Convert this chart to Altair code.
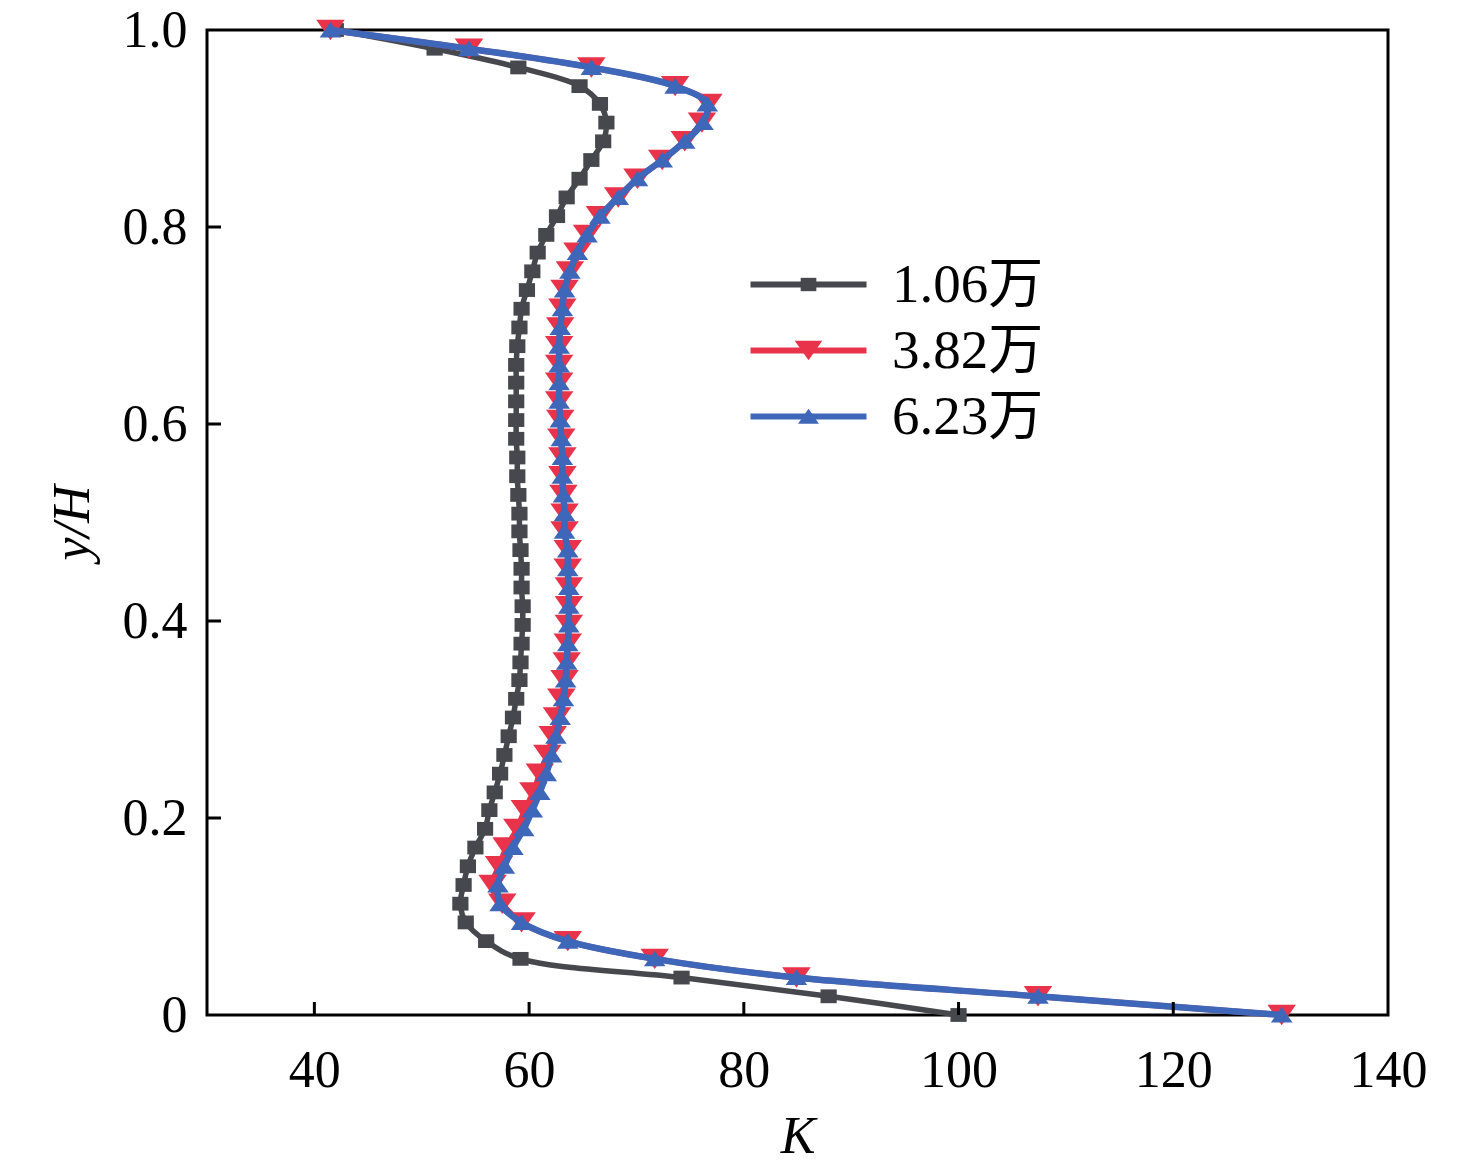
import altair as alt
import pandas as pd

# ---------------- data ----------------
y_h = [0.000, 0.019, 0.038, 0.057, 0.075, 0.094, 0.113, 0.132, 0.151, 0.170,
       0.189, 0.208, 0.226, 0.245, 0.264, 0.283, 0.302, 0.321, 0.340, 0.358,
       0.377, 0.396, 0.415, 0.434, 0.453, 0.472, 0.491, 0.509, 0.528, 0.547,
       0.566, 0.585, 0.604, 0.623, 0.642, 0.660, 0.679, 0.698, 0.717, 0.736,
       0.755, 0.774, 0.792, 0.811, 0.830, 0.849, 0.868, 0.887, 0.906, 0.925,
       0.943, 0.962, 0.981, 1.000]

k_106 = [100.0, 87.9, 74.2, 59.2, 56.0, 54.1, 53.6, 53.9, 54.3, 55.0,
         55.9, 56.3, 56.8, 57.3, 57.7, 58.1, 58.5, 58.8, 59.1, 59.2,
         59.3, 59.4, 59.4, 59.3, 59.3, 59.2, 59.1, 59.1, 59.0, 58.9,
         58.9, 58.8, 58.8, 58.8, 58.8, 58.8, 58.9, 59.1, 59.3, 59.8,
         60.3, 60.8, 61.6, 62.6, 63.5, 64.7, 65.8, 66.9, 67.2, 66.6,
         64.7, 59.0, 51.2, 42.0]

k_382 = [130.1, 107.4, 84.9, 71.7, 63.6, 59.3, 57.5, 56.6, 57.2, 57.9,
         58.9, 59.6, 60.4, 61.0, 61.7, 62.2, 62.6, 63.0, 63.3, 63.5,
         63.6, 63.7, 63.7, 63.7, 63.6, 63.6, 63.3, 63.3, 63.2, 63.1,
         63.1, 63.0, 62.9, 62.8, 62.8, 62.8, 62.8, 62.9, 63.1, 63.3,
         63.8, 64.5, 65.4, 66.6, 68.3, 70.1, 72.4, 74.5, 76.1, 76.7,
         73.6, 65.8, 54.4, 41.5]

k_623 = [130.1, 107.4, 84.9, 71.7, 63.6, 59.3, 57.3, 57.1, 57.7, 58.5,
         59.5, 60.3, 61.0, 61.6, 62.1, 62.5, 62.9, 63.2, 63.4, 63.5,
         63.6, 63.7, 63.7, 63.7, 63.6, 63.6, 63.3, 63.3, 63.2, 63.1,
         63.1, 63.0, 62.9, 62.8, 62.8, 62.8, 62.8, 62.9, 63.1, 63.3,
         63.8, 64.5, 65.4, 66.6, 68.3, 70.1, 72.4, 74.5, 76.2, 76.6,
         73.6, 65.8, 54.4, 41.5]

series_names = ["1.06万", "3.82万", "6.23万"]
series_values = [k_106, k_382, k_623]
colors = ["#47484d", "#e8334a", "#3e66b9"]
marker_paths = [
    "M-0.54,-0.46L0.54,-0.46L0.54,0.46L-0.54,0.46Z",   # square
    "M-0.95,-0.68L0.95,-0.68L0,0.68Z",                 # triangle down
    "M0,-0.54L0.72,0.5L-0.72,0.5Z",                    # triangle up
]
line_widths = [5.5, 6, 6.5]

x_axis_values = [40, 60, 80, 100, 120, 140]
y_axis_values = [0, 0.2, 0.4, 0.6, 0.8, 1.0]
x_tick_marks = [40, 60, 80, 100, 120]
y_tick_marks = [0.2, 0.4, 0.6, 0.8]

# ---------------- build ----------------
FONT = "Liberation Serif, Noto Sans CJK SC"
marker_names = [s + " " for s in series_names]

frames = []
for name, mname, vals in zip(series_names, marker_names, series_values):
    frames.append(pd.DataFrame({
        "series": name, "mseries": mname, "K": vals, "yH": y_h,
        "idx": list(range(len(y_h)))}))

xscale = alt.Scale(domain=[30, 140], nice=False, zero=False)
yscale = alt.Scale(domain=[0, 1], nice=False, zero=False)

xaxis = alt.Axis(values=x_axis_values, format="d", title="K",
                 titleFont=FONT, titleFontSize=52, titleFontStyle="italic",
                 titleFontWeight="normal", titleColor="black", titlePadding=15,
                 labelFont=FONT, labelFontSize=52, labelColor="black",
                 labelPadding=30, labelFlush=False, labelOverlap=False,
                 ticks=False, domain=False, grid=False)
yaxis = alt.Axis(values=y_axis_values,
                 labelExpr="datum.value == 0 ? '0' : format(datum.value, '.1f')",
                 title="y/H",
                 titleFont=FONT, titleFontSize=52, titleFontStyle="italic",
                 titleFontWeight="normal", titleColor="black", titlePadding=23,
                 labelFont=FONT, labelFontSize=52, labelColor="black",
                 labelPadding=20, labelFlush=False, labelOverlap=False,
                 ticks=False, domain=False, grid=False)

LEG_X, LEG_Y = 574, 227
legA = alt.Legend(title=None, orient="none", legendX=LEG_X, legendY=LEG_Y,
                  symbolType="M-4,0L4,0", symbolSize=841, symbolStrokeWidth=6,
                  labelFont=FONT, labelFontSize=55, labelColor="black",
                  labelOffset=56, rowPadding=10, padding=0)
legB = alt.Legend(title=None, orient="none", legendX=LEG_X, legendY=LEG_Y,
                  symbolSize=841, symbolStrokeWidth=0, symbolOpacity=1,
                  labelFont=FONT, labelFontSize=55, labelOpacity=0,
                  labelOffset=56, rowPadding=10, padding=0)

stroke_scale = alt.Scale(domain=series_names, range=colors)
fill_scale = alt.Scale(domain=marker_names, range=colors)
shape_scale = alt.Scale(domain=marker_names, range=marker_paths)

layers = []
for df, lw in zip(frames, line_widths):
    line = alt.Chart(df).mark_line(
        strokeWidth=lw, interpolate="catmull-rom", strokeCap="round",
        strokeJoin="round").encode(
        x=alt.X("K:Q", scale=xscale, axis=xaxis),
        y=alt.Y("yH:Q", scale=yscale, axis=yaxis),
        order=alt.Order("idx:Q"),
        stroke=alt.Stroke("series:N", scale=stroke_scale, legend=legA),
    )
    pts = alt.Chart(df).mark_point(
        filled=True, size=900, opacity=1, strokeWidth=0).encode(
        x=alt.X("K:Q", scale=xscale, axis=xaxis),
        y=alt.Y("yH:Q", scale=yscale, axis=yaxis),
        fill=alt.Fill("mseries:N", scale=fill_scale, legend=legB),
        shape=alt.Shape("mseries:N", scale=shape_scale, legend=legB),
    )
    layers += [line, pts]

PLOT_H = 985
xt = alt.Chart(pd.DataFrame({"K": x_tick_marks})).mark_rule(
    color="black", strokeWidth=3).encode(
    x=alt.X("K:Q", scale=xscale, axis=xaxis),
    y=alt.value(PLOT_H), y2=alt.value(PLOT_H - 13))
yt = alt.Chart(pd.DataFrame({"yH": y_tick_marks})).mark_rule(
    color="black", strokeWidth=3).encode(
    y=alt.Y("yH:Q", scale=yscale, axis=yaxis),
    x=alt.value(0), x2=alt.value(14))
layers += [xt, yt]

chart = alt.layer(*layers).properties(
    width=1181, height=PLOT_H,
    padding={"left": 199, "top": 22, "right": 80, "bottom": 155},
    autosize=alt.AutoSizeParams(type="none"),
    background="white",
).configure_view(stroke="black", strokeWidth=3)

chart.save("out.html", embed_options={"renderer": "svg", "actions": False})
